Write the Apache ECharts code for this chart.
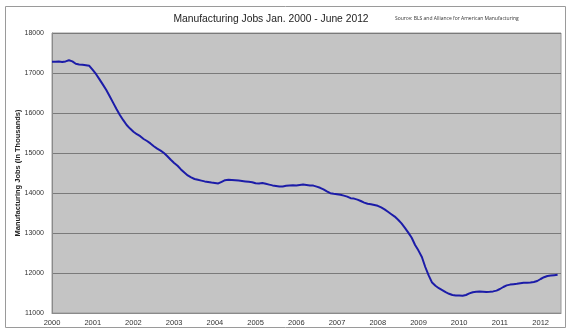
<!DOCTYPE html>
<html>
<head>
<meta charset="utf-8">
<script src="https://cdn.jsdelivr.net/npm/echarts@6/dist/echarts.min.js"></script>
<style>html,body{margin:0;padding:0;background:#fff;}#c{width:569px;height:330px;}</style>
</head>
<body>
<div id="c"></div>
<script>
const startYear = 2000;
const yearTicks = [2000, 2001, 2002, 2003, 2004, 2005, 2006, 2007, 2008, 2009, 2010, 2011, 2012];
const yTicks = [11000, 12000, 13000, 14000, 15000, 16000, 17000, 18000];
// Monthly manufacturing jobs (thousands), Jan 2000 - Jun 2012
const jobs2000 = [17283, 17280, 17285, 17275, 17290, 17317, 17290, 17230, 17215, 17205, 17195, 17180];
const jobs2001 = [17080, 16970, 16840, 16710, 16575, 16420, 16260, 16100, 15950, 15820, 15700, 15610];
const jobs2002 = [15533, 15470, 15420, 15350, 15300, 15240, 15170, 15110, 15060, 15000, 14920, 14830];
const jobs2003 = [14750, 14680, 14590, 14510, 14440, 14390, 14350, 14330, 14310, 14290, 14275, 14260];
const jobs2004 = [14250, 14240, 14280, 14320, 14330, 14325, 14320, 14310, 14300, 14290, 14280, 14270];
const jobs2005 = [14245, 14240, 14250, 14230, 14210, 14190, 14175, 14160, 14165, 14180, 14190, 14195];
const jobs2006 = [14190, 14200, 14210, 14200, 14190, 14185, 14160, 14130, 14090, 14040, 13995, 13980];
const jobs2007 = [13970, 13955, 13935, 13910, 13870, 13860, 13835, 13800, 13760, 13730, 13720, 13700];
const jobs2008 = [13680, 13640, 13590, 13530, 13470, 13410, 13330, 13240, 13130, 13010, 12880, 12700];
const jobs2009 = [12560, 12400, 12150, 11940, 11760, 11680, 11620, 11570, 11520, 11480, 11450, 11440];
const jobs2010 = [11435, 11430, 11450, 11490, 11520, 11530, 11535, 11530, 11525, 11530, 11540, 11560];
const jobs2011 = [11600, 11650, 11690, 11710, 11720, 11730, 11745, 11755, 11755, 11760, 11775, 11800];
const jobs2012 = [11850, 11895, 11925, 11935, 11945, 11955];

const allJobs = [].concat(jobs2000, jobs2001, jobs2002, jobs2003, jobs2004, jobs2005, jobs2006,
  jobs2007, jobs2008, jobs2009, jobs2010, jobs2011, jobs2012);
const seriesData = allJobs.map((v, i) => [startYear + i / 12, v]);

const chart = echarts.init(document.getElementById('c'), null, {renderer: 'canvas'});
chart.setOption({
  animation: false,
  backgroundColor: '#ffffff',
  textStyle: {fontFamily: 'Liberation Sans, Arial, sans-serif'},
  title: [{
    text: 'Manufacturing Jobs Jan. 2000 - June 2012',
    left: 266, top: 9, textAlign: 'center',
    textStyle: {fontSize: 10.3, fontWeight: 'normal', color: '#222', fontFamily: 'Liberation Sans, Arial, sans-serif'}
  }, {
    text: 'Source: BLS and Alliance for American Manufacturing',
    left: 390, top: 11,
    textStyle: {fontSize: 5, fontWeight: 'normal', color: '#333', fontFamily: 'Open Sans, sans-serif'}
  }],
  graphic: [{
    type: 'rect', shape: {x: 5.5, y: 6.5, width: 560, height: 321}, silent: true, z: -10,
    style: {fill: 'none', stroke: '#9a9a9a', lineWidth: 1}
  }],
  grid: {
    left: 52, right: 8, top: 33, bottom: 17,
    containLabel: false, outerBoundsMode: 'none',
    show: true, backgroundColor: '#c4c4c4', borderColor: '#9a9a9a', borderWidth: 1
  },
  xAxis: {
    type: 'value', min: 2000, max: 2012.5, interval: 1,
    axisLine: {show: true, lineStyle: {color: '#8a8a8a'}},
    axisTick: {show: false},
    splitLine: {show: false},
    axisLabel: {
      fontSize: 7.5, color: '#333', margin: 6,
      showMaxLabel: false,
      formatter: v => (yearTicks.indexOf(v) >= 0 ? String(v) : '')
    }
  },
  yAxis: {
    type: 'value', min: yTicks[0], max: yTicks[yTicks.length - 1], interval: 1000,
    name: 'Manufacturing Jobs (In Thousands)',
    nameLocation: 'middle', nameGap: 30, nameRotate: 90, nameMoveOverlap: false,
    nameTextStyle: {fontSize: 7.5, fontWeight: 'bold', color: '#222'},
    axisLine: {show: true, lineStyle: {color: '#8a8a8a'}},
    axisTick: {show: false},
    axisLabel: {fontSize: 7, color: '#333', margin: 8, formatter: v => String(v)},
    splitLine: {show: true, lineStyle: {color: '#7a7a7a', width: 1.2}}
  },
  series: [{
    type: 'line',
    data: seriesData,
    showSymbol: false,
    smooth: false,
    lineStyle: {color: '#1c1ca8', width: 2}
  }]
});
</script>
</body>
</html>
